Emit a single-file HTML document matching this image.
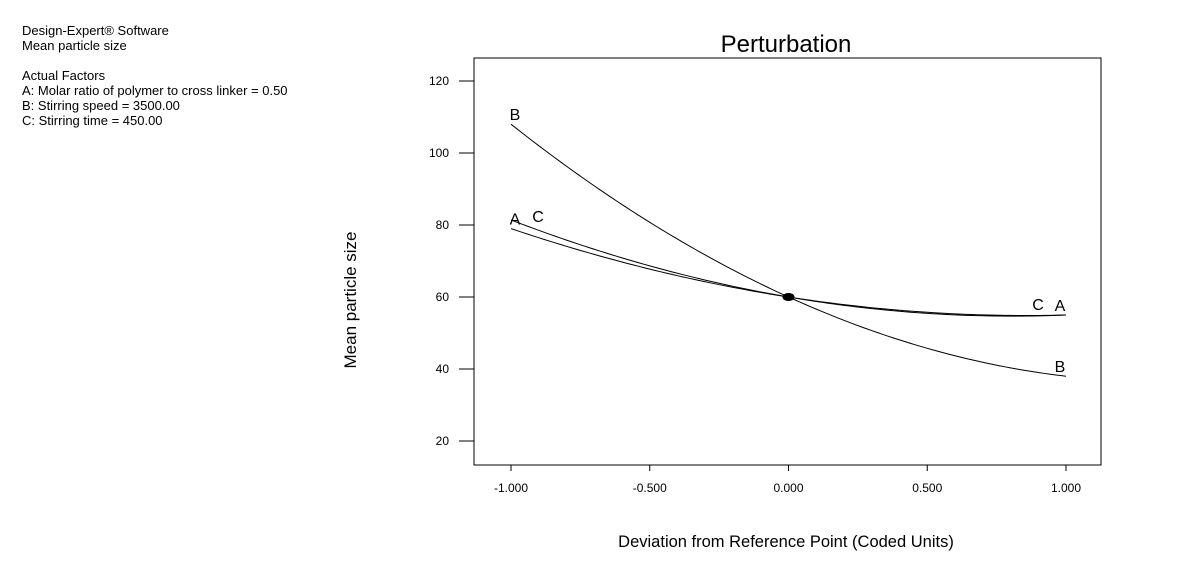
<!DOCTYPE html>
<html><head><meta charset="utf-8"><style>
body{margin:0;background:#fff;width:1187px;height:576px;overflow:hidden;font-family:"Liberation Sans",Arial,sans-serif}
</style></head><body>
<svg width="1187" height="576" font-family="Liberation Sans, Arial, sans-serif">
<g font-size="13" fill="#000">
<text x="22" y="35">Design-Expert® Software</text>
<text x="22" y="50">Mean particle size</text>
<text x="22" y="80">Actual Factors</text>
<text x="22" y="95">A: Molar ratio of polymer to cross linker = 0.50</text>
<text x="22" y="110">B: Stirring speed = 3500.00</text>
<text x="22" y="125">C: Stirring time = 450.00</text>
</g>
<text x="786" y="52" font-size="24" text-anchor="middle">Perturbation</text>
<rect x="474" y="58" width="627" height="407" fill="none" stroke="#000" stroke-width="1"/>
<g id="axes"></g>
<g id="series"></g>
<text transform="translate(356,300) rotate(-90)" font-size="17" text-anchor="middle">Mean particle size</text>
<text x="786" y="547" font-size="16.5" text-anchor="middle">Deviation from Reference Point (Coded Units)</text>
</svg>
<script>
const xTicks=[-1,-0.5,0,0.5,1];
const xTickLabels=["-1.000","-0.500","0.000","0.500","1.000"];
const yTicks=[20,40,60,80,100,120];
const factors=["A","B","C"];
const linearCoef=[-12,-35,-13.2];
const quadCoef=[7,13,8.2];
const center=60;
const NS="http://www.w3.org/2000/svg";
const sx=v=>788.5+v*277.5;
const sy=v=>441-(v-20)*3.6;
const axes=document.getElementById('axes');
const series=document.getElementById('series');
function mk(tag,attrs,parent){const e=document.createElementNS(NS,tag);for(const k in attrs)e.setAttribute(k,attrs[k]);parent.appendChild(e);return e;}
xTicks.forEach((t,i)=>{
 const l=mk('line',{x1:sx(t),x2:sx(t),y1:465,y2:471,stroke:'#000'},axes);
 
 
 const tx=mk('text',{x:sx(t),y:492,'font-size':12,'text-anchor':'middle'},axes);
 tx.textContent=xTickLabels[i];
 
 
});
yTicks.forEach(t=>{
 const l=mk('line',{x1:459,x2:474,y1:sy(t),y2:sy(t),stroke:'#000'},axes);
 
 
 const tx=mk('text',{x:449,y:sy(t)+4,'font-size':12,'text-anchor':'end'},axes);
 tx.textContent=String(t);
 
 
});
const f=(i,x)=>center+linearCoef[i]*x+quadCoef[i]*x*x;
const leftOff={A:[4,-4],B:[4,-4],C:[27,2]};
const rightOff={A:[-6,-4],B:[-6,-4],C:[-28,-5]};
factors.forEach((name,i)=>{
 let d='';
 for(let k=0;k<=100;k++){const x=-1+2*k/100;d+=(k?'L':'M')+sx(x).toFixed(2)+','+sy(f(i,x)).toFixed(2);}
 const p=mk('path',{d:d,fill:'none',stroke:'#000','stroke-width':1},series);
 
 
 const l1=mk('text',{x:sx(-1)+leftOff[name][0],y:sy(f(i,-1))+leftOff[name][1],'font-size':16,'text-anchor':'middle',fill:'#000'},series);
 l1.textContent=name;
 
 
 const l2=mk('text',{x:sx(1)+rightOff[name][0],y:sy(f(i,1))+rightOff[name][1],'font-size':16,'text-anchor':'middle',fill:'#000'},series);
 l2.textContent=name;
 
 
});
const dot=mk('ellipse',{cx:sx(0),cy:sy(center),rx:6,ry:4,fill:'#000'},series);


</script>
</body></html>
